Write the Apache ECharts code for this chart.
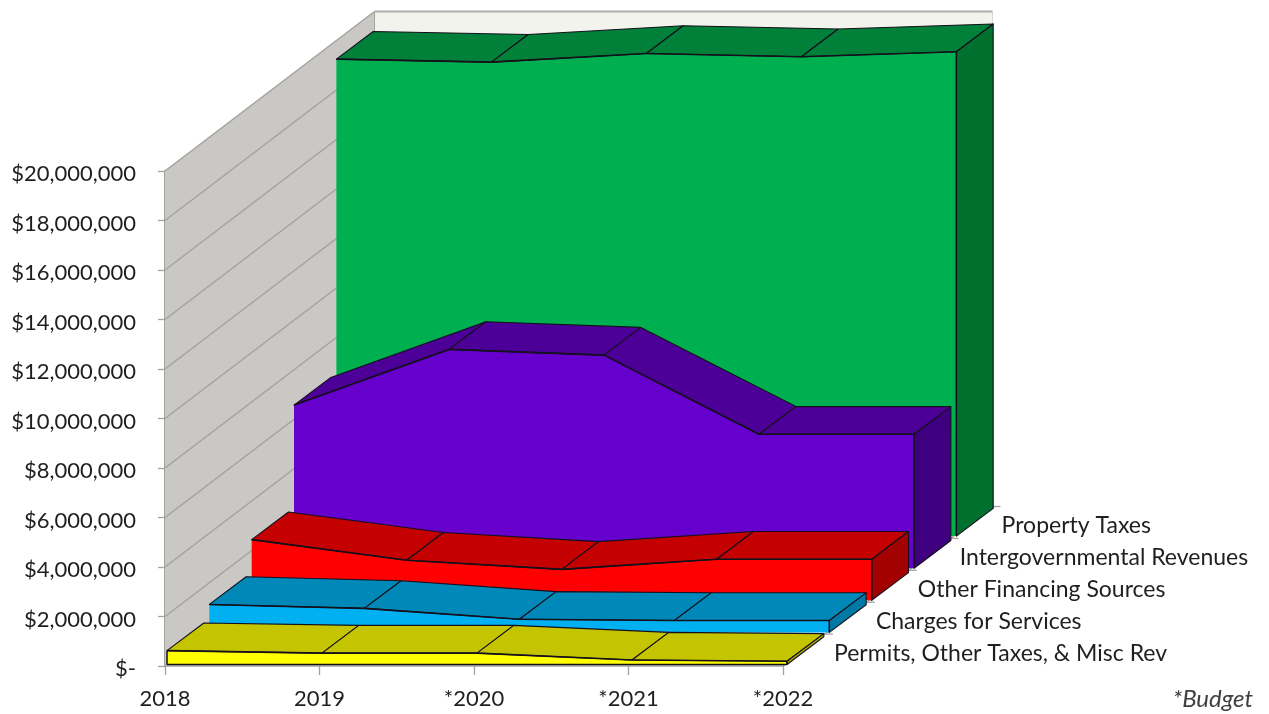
<!DOCTYPE html>
<html>
<head>
<meta charset="utf-8">
<style>html,body{margin:0;padding:0;background:#fff}#chart{width:1269px;height:714px}</style>
<script src="https://cdn.jsdelivr.net/npm/echarts@6/dist/echarts.min.js"></script>
</head>
<body>
<div id="chart"></div>
<script>
// Revenue by source, dollars
const years = ['2018', '2019', '*2020', '*2021', '*2022'];
const seriesNames = [
  'Permits, Other Taxes, & Misc Rev',
  'Charges for Services',
  'Other Financing Sources',
  'Intergovernmental Revenues',
  'Property Taxes'
];
const permits = [560000, 460000, 460000, 180000, 130000];
const charges = [1130000, 970000, 530000, 480000, 480000];
const otherFinancing = [2450000, 1620000, 1250000, 1660000, 1660000];
const intergovernmental = [6590000, 8840000, 8610000, 5410000, 5410000];
const propertyTaxes = [19270000, 19150000, 19500000, 19370000, 19570000];
const valueTicks = [0, 2000000, 4000000, 6000000, 8000000, 10000000, 12000000, 14000000, 16000000, 18000000, 20000000];

const FONT = 'Lato';
const LABEL_COLOR = '#1f1f1f';
const EDGE = '#14101c';
const WALL_LINE = '#a3a29e';

// Oblique projection: each series occupies one slot going back and to the right.
const SLOT_X = 42.35, SLOT_Y = 32.1;
const THICK_X = 36.8, THICK_Y = 27.7;
const WALL_X = 209.5, WALL_Y = 159.5;

const bands = [
  { values: permits, front: '#ffff00', top: '#c4c400', side: '#a9a900', leftEdge: true },
  { values: charges, front: '#00b0f0', top: '#0088b8', side: '#0079a4' },
  { values: otherFinancing, front: '#ff0000', top: '#c40000', side: '#a30000' },
  { values: intergovernmental, front: '#6600cc', top: '#4c0097', side: '#3f007f' },
  { values: propertyTaxes, front: '#00b050', top: '#008038', side: '#00702f' }
];

function poly(points, fill, stroke) {
  return {
    type: 'polygon',
    shape: { points },
    style: { fill, stroke: stroke || fill, lineWidth: stroke ? 1.1 : 0, lineJoin: 'round' }
  };
}
function seg(a, b, stroke, lineWidth) {
  return {
    type: 'line',
    shape: { x1: a[0], y1: a[1], x2: b[0], y2: b[1] },
    style: { stroke, lineWidth: lineWidth || 1 }
  };
}

// One band of the stack: a single front face, a lid strip per interval and an end cap.
function bandSeries(band, slot) {
  const dx = slot * SLOT_X, dy = -slot * SLOT_Y;
  const at = (api, i, v) => {
    const c = api.coord([i, v]);
    return [c[0] + dx, c[1] + dy];
  };
  const back = p => [p[0] + THICK_X, p[1] - THICK_Y];
  return {
    type: 'custom',
    xAxisIndex: 1,
    yAxisIndex: 1,
    z: 10 + (4 - slot),
    clip: false,
    silent: true,
    encode: { x: 0, y: 1 },
    data: band.values.map((v, i) => [i, v]),
    renderItem(params, api) {
      const i = params.dataIndex;
      const last = band.values.length - 1;
      const children = [];
      const top = at(api, i, band.values[i]);
      const base = at(api, i, 0);
      if (i === 0) {
        const outline = band.values.map((v, k) => at(api, k, v));
        outline.push(at(api, last, 0), base);
        children.push(poly(outline, band.front));
      }
      if (i < last) {
        const nextTop = at(api, i + 1, band.values[i + 1]);
        const nextBase = at(api, i + 1, 0);
        children.push(poly([top, nextTop, back(nextTop), back(top)], band.top, EDGE));
        children.push(seg(top, nextTop, EDGE, 1.6));
        if (band.leftEdge) children.push(seg(base, nextBase, EDGE, 1.5));
      } else {
        children.push(poly([top, back(top), back(base), base], band.side, EDGE));
        children.push(seg(top, base, EDGE, 1.5));
      }
      if (i === 0 && band.leftEdge) children.push(seg(top, base, EDGE, 1.5));
      return { type: 'group', children };
    }
  };
}

// Back wall, side wall, their gridlines and the receding floor edge with its ticks.
const wallSeries = {
  type: 'custom',
  xAxisIndex: 0,
  yAxisIndex: 0,
  z: 1,
  clip: false,
  silent: true,
  encode: { x: 0, y: 1 },
  data: [[0, 0]],
  renderItem(params, api) {
    const lastX = years.length - 1;
    const maxV = valueTicks[valueTicks.length - 1];
    const shift = p => [p[0] + WALL_X, p[1] - WALL_Y];
    const o = api.coord([0, 0]), oTop = api.coord([0, maxV]);
    const e = api.coord([lastX, 0]), eTop = api.coord([lastX, maxV]);
    const children = [
      poly([shift(o), shift(oTop), shift(eTop), shift(e)], '#f3f3ee'),
      poly([o, oTop, shift(oTop), shift(o)], '#c9c8c4')
    ];
    valueTicks.forEach(v => {
      const a = api.coord([0, v]), b = shift(a), c = shift(api.coord([lastX, v]));
      children.push(seg(a, b, WALL_LINE, 1.5));
      children.push(seg(b, c, '#c4c3bf', 1.3));
    });
    children.push(seg(shift(oTop), shift(eTop), '#b4b3af', 2));
    children.push(seg(shift(o), shift(oTop), WALL_LINE, 1));
    children.push(seg(shift(e), shift(eTop), '#d6d6d2', 1));
    children.push(seg(e, shift(e), WALL_LINE, 1.5));
    seriesNames.forEach((name, k) => {
      const f = (k + 1) / seriesNames.length;
      const p = [e[0] + WALL_X * f, e[1] - WALL_Y * f];
      children.push(seg(p, [p[0] + 8, p[1]], WALL_LINE, 1.3));
    });
    return { type: 'group', children };
  }
};

// Series names sit beside the floor edge, one per slot.
const depthLabelSeries = {
  type: 'custom',
  xAxisIndex: 0,
  yAxisIndex: 0,
  z: 20,
  clip: false,
  silent: true,
  encode: { x: 0, y: 1 },
  data: seriesNames.map((n, k) => [years.length - 1, 0, k]),
  renderItem(params, api) {
    const k = params.dataIndex;
    const e = api.coord([years.length - 1, 0]);
    return {
      type: 'text',
      x: e[0] + 51 + k * WALL_X / seriesNames.length,
      y: e[1] - 12.5 - k * WALL_Y / seriesNames.length,
      style: {
        text: seriesNames[k],
        font: '23px ' + FONT,
        fill: LABEL_COLOR,
        textAlign: 'left',
        textVerticalAlign: 'middle'
      }
    };
  }
};

const sharedRange = { type: 'value', min: 0, max: 20000000, interval: 2000000 };

const chart = echarts.init(document.getElementById('chart'), null, { renderer: 'canvas' });
chart.setOption({
  animation: false,
  backgroundColor: '#ffffff',
  // The first grid carries the visible axes; the second places the bands.
  grid: [
    { left: 165, right: 486, top: 171, bottom: 48 },
    { left: 167, width: 620, top: 169.5, height: 495 }
  ],
  xAxis: [
    {
      type: 'category',
      gridIndex: 0,
      data: years,
      boundaryGap: false,
      axisLine: { show: true, lineStyle: { color: WALL_LINE, width: 1.5 } },
      axisTick: { show: true, alignWithLabel: true, length: 9, lineStyle: { color: WALL_LINE, width: 1.3 } },
      axisLabel: { color: LABEL_COLOR, fontFamily: FONT, fontSize: 22, margin: 22 },
      splitLine: { show: false }
    },
    { type: 'category', gridIndex: 1, data: years, boundaryGap: false, show: false }
  ],
  yAxis: [
    {
      ...sharedRange,
      gridIndex: 0,
      axisLine: { show: true, lineStyle: { color: WALL_LINE, width: 2 } },
      axisTick: { show: true, length: 7, lineStyle: { color: WALL_LINE, width: 1.3 } },
      axisLabel: {
        color: LABEL_COLOR,
        fontFamily: FONT,
        fontSize: 22,
        margin: 29,
        formatter: v => '{amount|' + (v === 0 ? '$-' : '$' + v.toLocaleString('en-US')) + '}',
        rich: {
          amount: { fontFamily: FONT, fontSize: 22, color: LABEL_COLOR, padding: [6, 0, 0, 0] }
        }
      },
      splitLine: { show: false }
    },
    { ...sharedRange, gridIndex: 1, show: false, splitLine: { show: false } }
  ],
  graphic: [{
    type: 'text',
    right: 16,
    top: 687,
    style: { text: '*Budget', font: 'italic 24px ' + FONT, fill: '#404040' }
  }],
  series: [wallSeries].concat(bands.map(bandSeries), depthLabelSeries)
});
</script>
</body>
</html>
